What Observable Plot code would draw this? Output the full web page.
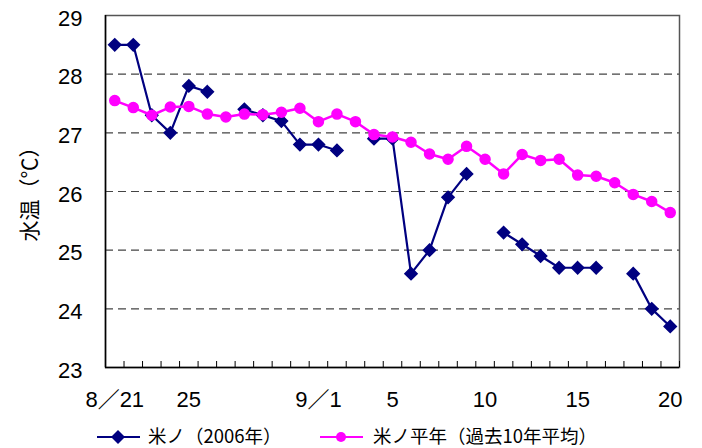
<!DOCTYPE html>
<html><head><meta charset="utf-8">
<script src="https://cdn.jsdelivr.net/npm/d3@7"></script>
<script src="https://cdn.jsdelivr.net/npm/@observablehq/plot@0.6"></script>
<style>
body{margin:0;background:#fff;font-family:"Liberation Sans","Noto Sans CJK JP",sans-serif;}
#wrap{position:relative;width:702px;height:448px;overflow:hidden;}
#ylab{position:absolute;left:28px;top:189px;transform:translate(-50%,-50%) rotate(-90deg);font-size:21px;white-space:nowrap;font-family:"Noto Sans CJK JP",sans-serif;}
#legend{position:absolute;left:0;top:426px;width:702px;height:19px;font-size:18.5px;line-height:19px;font-family:"Noto Sans CJK JP",sans-serif;}
.li{position:absolute;top:0;height:19px;display:flex;align-items:center;white-space:nowrap;}
.li span{line-height:19px;}
</style></head>
<body><div id="wrap"><div id="chart"></div><div id="ylab">水温（℃）</div><div id="legend"></div></div>
<script>
const dates = ["8/21","8/22","8/23","8/24","8/25","8/26","8/27","8/28","8/29","8/30","8/31",
  "9/1","9/2","9/3","9/4","9/5","9/6","9/7","9/8","9/9","9/10",
  "9/11","9/12","9/13","9/14","9/15","9/16","9/17","9/18","9/19","9/20"];
const temp2006 = [28.5,28.5,27.3,27.0,27.8,27.7,null,27.4,27.3,27.2,26.8,
  26.8,26.7,null,26.9,26.9,24.6,25.0,25.9,26.3,null,
  25.3,25.1,24.9,24.7,24.7,24.7,null,24.6,24.0,23.7];
const tempNormal = [27.55,27.43,27.3,27.44,27.45,27.32,27.27,27.32,27.31,27.35,27.42,
  27.19,27.32,27.19,26.97,26.93,26.84,26.64,26.55,26.77,26.55,
  26.3,26.63,26.53,26.55,26.28,26.26,26.15,25.95,25.83,25.64];
const xTickIndex = [0,4,11,15,20,25,30];
const xTickLabels = ["8／21","25","9／1","5","10","15","20"];
const yTicks = [23,24,25,26,27,28,29];
const gridTicks = [24,25,26,27,28];
const seriesNames = ["米ノ（2006年）","米ノ平年（過去10年平均）"];
const colors = ["#000080","#ff00ff"];

const idx = d3.range(dates.length);
const s1 = idx.map(i => ({i, v: temp2006[i]}));
const s2 = idx.map(i => ({i, v: tempNormal[i]}));
const bounds = d3.range(dates.length + 1).map(k => k - 0.5);

const plot = Plot.plot({
  width: 702, height: 420,
  marginLeft: 105, marginRight: 23, marginTop: 15, marginBottom: 53,
  style: {fontSize: "22px", fontFamily: '"Liberation Sans","Noto Sans CJK JP",sans-serif', color: "#000", background: "#fff"},
  x: {type: "linear", domain: [-0.5, dates.length - 0.5], axis: null, label: null},
  y: {domain: [23, 29], axis: null, label: null},
  marks: [
    Plot.gridY(gridTicks, {stroke: "#444", strokeOpacity: 1, strokeDasharray: "8,5", strokeWidth: 1.2}),
    Plot.frame({stroke: "#555", strokeWidth: 1.5}),
    Plot.ruleX([bounds[0]], {stroke: "#000", strokeWidth: 1.5}),
    Plot.ruleY([yTicks[0]], {stroke: "#000", strokeWidth: 1.5}),
    Plot.axisX({ticks: bounds, tickSize: -6, tickFormat: () => "", stroke: "#000", label: null}),
    Plot.axisX({ticks: xTickIndex, tickSize: 0, tickPadding: 24, tickFormat: i => xTickLabels[xTickIndex.indexOf(i)], fontSize: 22, fill: "#000", label: null}),
    Plot.axisY({ticks: yTicks, tickSize: 0, tickPadding: 23, tickFormat: "d", fontSize: 22, dy: 3, fill: "#000", label: null}),
    Plot.line(s1, {x: "i", y: "v", stroke: colors[0], strokeWidth: 2.2}),
    Plot.dot(s1.filter(d => d.v != null), {x: "i", y: "v", symbol: "diamond2", r: 5.5, fill: colors[0], stroke: colors[0]}),
    Plot.line(s2, {x: "i", y: "v", stroke: colors[1], strokeWidth: 2.5}),
    Plot.dot(s2, {x: "i", y: "v", symbol: "circle", r: 5, fill: colors[1], stroke: colors[1]})
  ]
});
document.getElementById("chart").appendChild(plot);

// legend
const leg = document.getElementById("legend");
const items = [{x: 97, sym: "diamond"}, {x: 320, sym: "circle"}];
items.forEach((it, k) => {
  const div = document.createElement("div");
  div.className = "li";
  div.style.left = it.x + "px";
  const svg = d3.create("svg").attr("width", 44).attr("height", 19);
  svg.append("line").attr("x1", 0).attr("x2", 43).attr("y1", 11).attr("y2", 11).attr("stroke", colors[k]).attr("stroke-width", 2.2);
  if (it.sym === "diamond") svg.append("path").attr("d", "M21,4L28,11L21,18L14,11Z").attr("fill", colors[k]);
  else svg.append("circle").attr("cx", 21).attr("cy", 11).attr("r", 5).attr("fill", colors[k]);
  div.appendChild(svg.node());
  const t = document.createElement("span");
  t.textContent = seriesNames[k];
  t.style.marginLeft = (k === 0 ? 7 : 9) + "px";
  div.appendChild(t);
  leg.appendChild(div);
});
</script></body></html>
